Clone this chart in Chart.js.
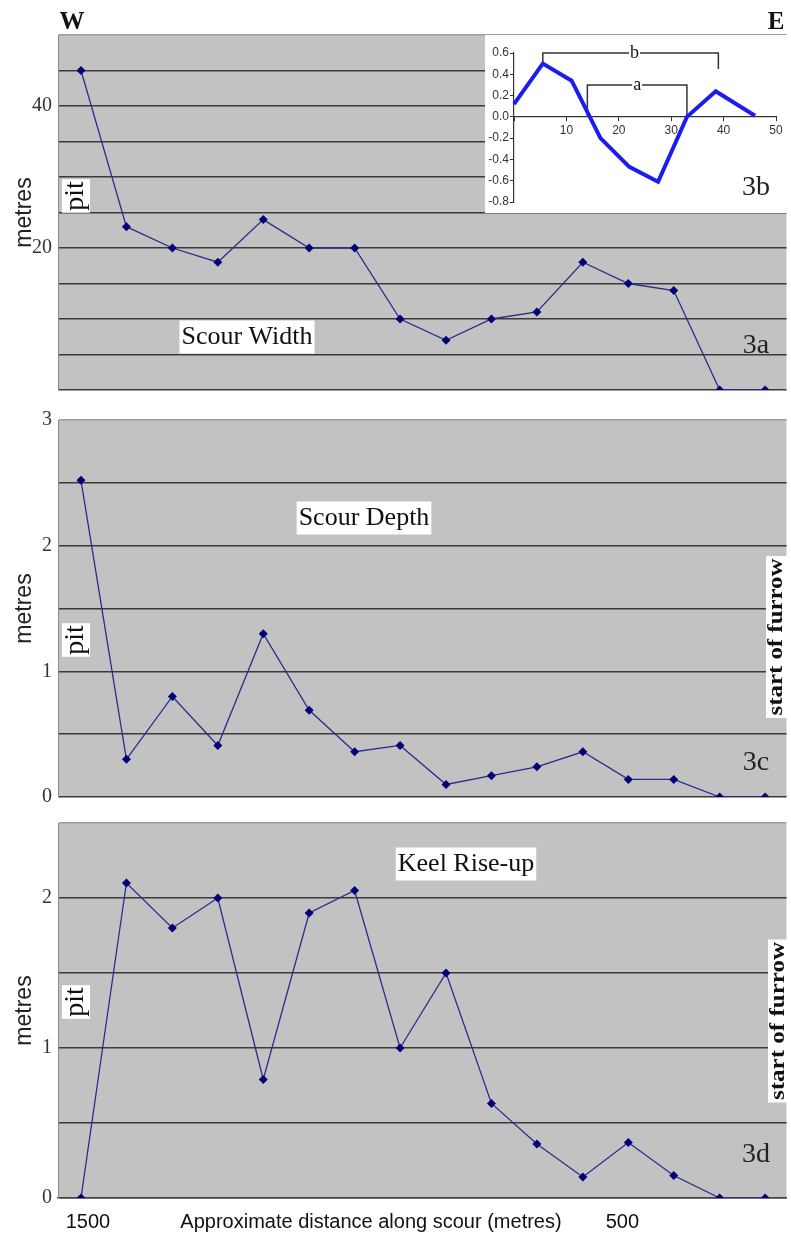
<!DOCTYPE html>
<html><head><meta charset="utf-8">
<script src="https://cdn.jsdelivr.net/npm/chart.js@4.4.1/dist/chart.umd.min.js"></script>
<style>
html,body{margin:0;padding:0;background:#fff;}
#wrap{position:relative;width:791px;height:1234px;overflow:hidden;background:#fff;}
canvas{position:absolute;left:0;}
</style></head><body>
<div id="wrap">
<canvas id="c1" width="791" height="400" style="top:0px"></canvas>
<canvas id="c2" width="791" height="410" style="top:400px"></canvas>
<canvas id="c3" width="791" height="424" style="top:810px"></canvas>
<canvas id="c4" width="306" height="178" style="top:35px;left:485px;background:#fff"></canvas>
</div>
<script>
// ---- data ----
const distance   = [1513, 1428, 1342, 1257, 1172, 1086, 1001, 916, 830, 745, 660, 574, 489, 404, 318, 233];
const scourWidth = [45, 23, 20, 18, 24, 20, 20, 10, 7, 10, 11, 18, 15, 14, 0, 0];
const scourDepth = [2.52, 0.30, 0.80, 0.41, 1.30, 0.69, 0.36, 0.41, 0.10, 0.17, 0.24, 0.36, 0.14, 0.14, 0, 0];
const keelRise   = [0, 2.10, 1.80, 2.00, 0.79, 1.90, 2.05, 1.00, 1.50, 0.63, 0.36, 0.14, 0.37, 0.15, 0, 0];
const xTickValues = [1500, 500];
const xAxisTitle = 'Approximate distance along scour (metres)';
const widthTickLabels = [20, 40];
const depthTickLabels = [0, 1, 2, 3];
const riseTickLabels  = [0, 1, 2];
// inset 3b profile
const insetX = [0, 5.5, 11, 16.5, 22, 27.5, 33, 38.5, 46];
const insetY = [0.12, 0.50, 0.34, -0.20, -0.47, -0.61, 0.0, 0.24, 0.01];
const bracketBx = [5.5, 5.5, 39, 39];
const bracketBy = [0.5, 0.6, 0.6, 0.45];
const bracketAx = [14, 14, 33, 33];
const bracketAy = [0, 0.3, 0.3, 0];

function plotBg(color){
  return {id:'plotBg', beforeDraw(chart){
    const {ctx, chartArea:a} = chart;
    ctx.save(); ctx.fillStyle = color;
    ctx.fillRect(a.left, a.top, a.right - a.left, a.bottom - a.top);
    ctx.restore();
  }};
}
function texts(items){
  return {id:'texts', afterDraw(chart){
    const ctx = chart.ctx;
    items.forEach(it => {
      let x = it.x, y = it.y;
      if (it.xv !== undefined) x = chart.scales.x.getPixelForValue(it.xv);
      if (it.yv !== undefined) y = chart.scales.y.getPixelForValue(it.yv);
      ctx.save();
      ctx.translate(x, y);
      if (it.rotate) ctx.rotate(-Math.PI / 2);
      ctx.font = it.font;
      const w = ctx.measureText(it.text).width;
      if (it.len) ctx.scale(it.len / w, 1);
      if (it.bg) {
        const px = it.padX === undefined ? 2 : it.padX;
        ctx.fillStyle = it.bg;
        ctx.fillRect(-w / 2 - px, -it.h / 2, w + 2 * px, it.h);
      }
      ctx.fillStyle = it.color || '#111';
      ctx.textAlign = 'center';
      ctx.textBaseline = 'middle';
      ctx.fillText(it.text, 0, it.dy || 0);
      ctx.restore();
    });
  }};
}

const SERIF = 'Liberation Serif';
const SANS = 'Liberation Sans';

function panel(id, values, yMax, step, labelled, pad, showX, items){
  return new Chart(document.getElementById(id), {
    type: 'line',
    data: {datasets: [{
      data: distance.map((d, i) => ({x: d, y: values[i]})),
      borderColor: '#2c2c8c', borderWidth: 1.3, tension: 0,
      pointStyle: 'rectRot', pointRadius: 4.5, pointBorderWidth: 0,
      pointBackgroundColor: '#000078', pointBorderColor: '#000078'
    }]},
    options: {
      responsive: false, animation: false, events: [],
      layout: {padding: {left: 0, right: 0, top: pad.top, bottom: pad.bottom}},
      plugins: {legend: {display: false}, tooltip: {enabled: false}},
      scales: {
        x: {
          type: 'linear', min: 193, max: 1556, reverse: true, display: showX,
          afterBuildTicks: s => { s.ticks = xTickValues.map(v => ({value: v})); },
          afterFit: s => { if (showX) s.height = 36; s.paddingLeft = 0; s.paddingRight = 0; },
          grid: {drawOnChartArea: false, drawTicks: false},
          border: {display: true, color: '#444', width: 1.5},
          ticks: {padding: 12, font: {family: SANS, size: 20}, color: '#111',
                  maxRotation: 0, autoSkip: false, callback: v => String(v)}
        },
        y: {
          min: 0, max: yMax,
          afterFit: s => { s.width = 58; s.paddingTop = 0; s.paddingBottom = 0; },
          ticks: {stepSize: step, padding: 6, font: {family: SERIF, size: 20}, color: '#333',
                  autoSkip: false,
                  callback: v => labelled.some(l => Math.abs(l - v) < 1e-9) ? String(v) : ''},
          grid: {color: c => (c.tick && Math.abs(c.tick.value - yMax) < 1e-9) ? '#9c9c9c' : '#3a3a3a',
                 lineWidth: 1.6, drawTicks: false},
          border: {display: true, color: '#8a8a8a', width: 1},
          title: {display: true, text: 'metres', font: {family: SANS, size: 23}, color: '#222',
                  padding: {top: 11, bottom: 0}}
        }
      }
    },
    plugins: [plotBg('#c2c2c2'), texts(items)]
  });
}

const furrowFont = 'bold 20px ' + SERIF;

panel('c1', scourWidth, 50, 5, widthTickLabels, {top: 35, bottom: 10}, false, [
  {text: 'W', x: 72, y: 23, font: 'bold 25px ' + SERIF, color: '#111'},
  {text: 'E', x: 776, y: 23, font: 'bold 25px ' + SERIF, color: '#111'},
  {text: 'pit', x: 76, y: 196, rotate: true, font: '28px ' + SERIF, bg: '#fff', h: 28},
  {text: 'Scour Width', x: 247, y: 337, font: '26px ' + SERIF, bg: '#fff', h: 33},
  {text: '3a', x: 756, y: 346, font: '28px ' + SERIF, color: '#222'}
]);

panel('c2', scourDepth, 3, 0.5, depthTickLabels, {top: 20, bottom: 13}, false, [
  {text: 'pit', x: 76, y: 240, rotate: true, font: '28px ' + SERIF, bg: '#fff', h: 28},
  {text: 'Scour Depth', x: 364, y: 118, font: '26px ' + SERIF, bg: '#fff', h: 33},
  {text: '3c', x: 756, y: 363, font: '28px ' + SERIF, color: '#222'},
  {text: 'start of furrow', x: 777, y: 237, rotate: true, font: furrowFont, len: 157, bg: '#fff', h: 22}
]);

panel('c3', keelRise, 2.5, 0.5, riseTickLabels, {top: 13, bottom: 0}, true, [
  {text: 'pit', x: 76, y: 192, rotate: true, font: '28px ' + SERIF, bg: '#fff', h: 28},
  {text: 'Keel Rise-up', x: 466, y: 54, font: '26px ' + SERIF, bg: '#fff', h: 33},
  {text: '3d', x: 756, y: 345, font: '28px ' + SERIF, color: '#222'},
  {text: 'start of furrow', x: 779, y: 211, rotate: true, font: furrowFont, len: 158, bg: '#fff', h: 22},
  {text: xAxisTitle, x: 371, y: 412, font: '20px ' + SANS, color: '#111'}
]);

// inset 3b
new Chart(document.getElementById('c4'), {
  type: 'line',
  data: {datasets: [
    {data: insetX.map((x, i) => ({x: x, y: insetY[i]})), borderColor: '#1c1cf0', borderWidth: 4,
     pointRadius: 0, tension: 0, clip: false},
    {data: bracketBx.map((x, i) => ({x: x, y: bracketBy[i]})), borderColor: '#333', borderWidth: 1.5,
     pointRadius: 0, tension: 0, clip: false},
    {data: bracketAx.map((x, i) => ({x: x, y: bracketAy[i]})), borderColor: '#333', borderWidth: 1.5,
     pointRadius: 0, tension: 0, clip: false}
  ]},
  options: {
    responsive: false, animation: false, events: [],
    layout: {padding: {left: 0, right: 15, top: 18, bottom: 11}},
    plugins: {legend: {display: false}, tooltip: {enabled: false}},
    scales: {
      x: {type: 'linear', min: 0, max: 50, position: {y: 0},
          ticks: {stepSize: 10, padding: 3, font: {family: SANS, size: 12}, color: '#333',
                  callback: v => v === 0 ? '' : String(v)},
          grid: {drawOnChartArea: false, color: '#333', tickLength: 4},
          border: {color: '#333', width: 1.2}},
      y: {min: -0.8, max: 0.6, afterFit: s => { s.width = 29; },
          ticks: {stepSize: 0.2, padding: 1, font: {family: SANS, size: 12}, color: '#333',
                  callback: v => Math.abs(v) < 1e-9 ? '0.0' : Number(v).toFixed(1)},
          grid: {drawOnChartArea: false, color: '#333', tickLength: 4},
          border: {color: '#333', width: 1.2}}
    }
  },
  plugins: [texts([
    {text: 'b', xv: 23, yv: 0.6, font: '18px ' + SERIF, bg: '#fff', h: 14, padX: 1},
    {text: 'a', xv: 23.5, yv: 0.3, font: '18px ' + SERIF, bg: '#fff', h: 14, padX: 1},
    {text: '3b', x: 271, y: 153, font: '28px ' + SERIF, color: '#222'}
  ])]
});
</script>
</body></html>
